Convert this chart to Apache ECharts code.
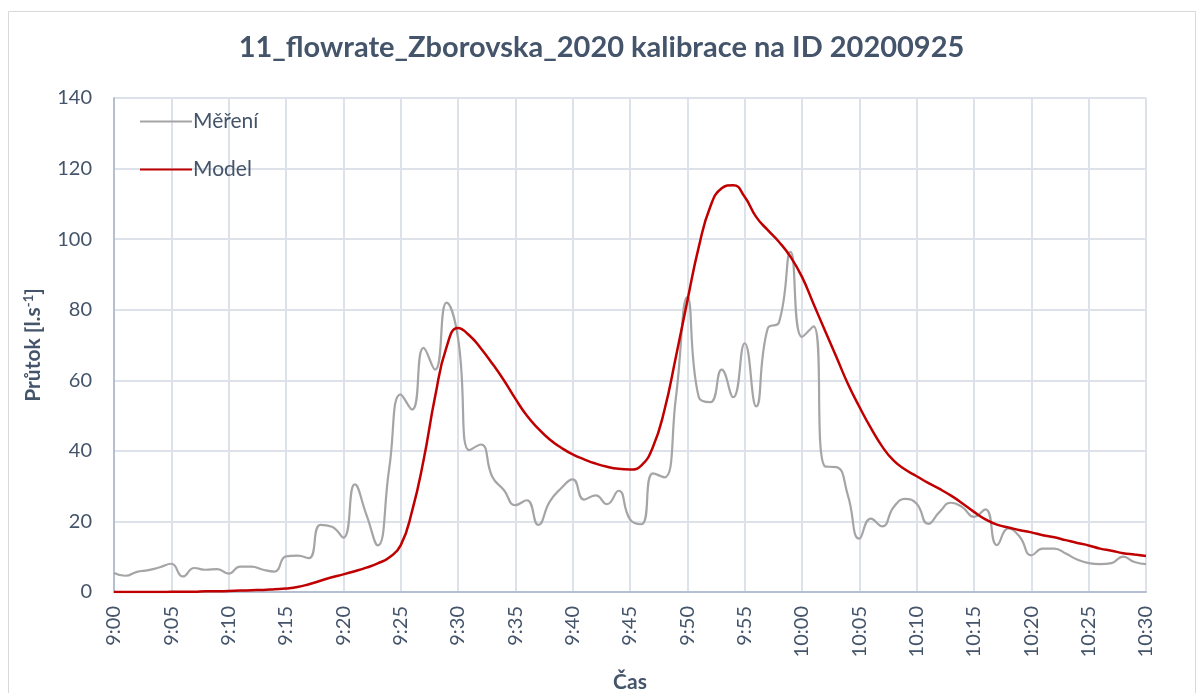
<!DOCTYPE html>
<html>
<head>
<meta charset="utf-8">
<script src="https://cdn.jsdelivr.net/npm/echarts@6/dist/echarts.min.js"></script>
<style>
  html, body { margin: 0; padding: 0; background: #fff; }
  #main { width: 1203px; height: 693px; }
</style>
</head>
<body>
<div id="main"></div>
<script>
  // čas (minutové kroky)
  const times = [
    '9:00', '9:01', '9:02', '9:03', '9:04', '9:05', '9:06', '9:07', '9:08', '9:09',
    '9:10', '9:11', '9:12', '9:13', '9:14', '9:15', '9:16', '9:17', '9:18', '9:19',
    '9:20', '9:21', '9:22', '9:23', '9:24', '9:25', '9:26', '9:27', '9:28', '9:29',
    '9:30', '9:31', '9:32', '9:33', '9:34', '9:35', '9:36', '9:37', '9:38', '9:39',
    '9:40', '9:41', '9:42', '9:43', '9:44', '9:45', '9:46', '9:47', '9:48', '9:49',
    '9:50', '9:51', '9:52', '9:53', '9:54', '9:55', '9:56', '9:57', '9:58', '9:59',
    '10:00', '10:01', '10:02', '10:03', '10:04', '10:05', '10:06', '10:07', '10:08', '10:09',
    '10:10', '10:11', '10:12', '10:13', '10:14', '10:15', '10:16', '10:17', '10:18', '10:19',
    '10:20', '10:21', '10:22', '10:23', '10:24', '10:25', '10:26', '10:27', '10:28', '10:29',
    '10:30',
  ];

  // Měření [l/s]
  const mereni = [
    5.4, 4.6, 5.7, 6.2, 7.0, 8.0, 4.4, 6.8, 6.3, 6.5,
    5.2, 7.2, 7.2, 6.3, 5.8, 10.1, 10.3, 9.6, 19.0, 18.5,
    15.4, 30.5, 22.0, 13.2, 35.0, 56.0, 51.7, 69.2, 63.0, 82.0,
    72.0, 40.2, 41.8, 32.6, 28.9, 24.6, 26.0, 19.0, 25.6, 29.4,
    31.9, 26.2, 27.4, 24.9, 28.7, 20.6, 19.2, 33.6, 32.5, 55.0,
    83.6, 55.2, 53.8, 63.0, 55.2, 70.5, 52.6, 74.6, 76.5, 96.4,
    72.3, 75.3, 35.6, 35.4, 27.4, 15.1, 20.8, 18.6, 24.1, 26.4,
    25.0, 19.3, 22.7, 25.3, 24.0, 21.3, 23.4, 13.3, 18.0, 15.6,
    10.4, 12.3, 12.3, 10.9, 9.2, 8.2, 7.9, 8.2, 10.0, 8.5,
    7.9,
  ];

  // Model [l/s]
  const model = [
    0, 0, 0, 0, 0, 0.05, 0.1, 0.1, 0.2, 0.2,
    0.3, 0.4, 0.5, 0.6, 0.8, 1.0, 1.4, 2.2, 3.2, 4.2,
    5.0, 5.9, 6.9, 8.1, 9.8, 13.2, 23.0, 37.4, 55.3, 69.4,
    74.8, 72.7, 69.0, 64.7, 60.0, 54.8, 50.0, 46.3, 43.2, 40.9,
    39.0, 37.6, 36.4, 35.5, 34.9, 34.7, 35.9, 41.1, 51.5, 66.6,
    82.5, 97.8, 109.2, 114.4, 115.3, 112.0, 106.3, 102.6, 99.2, 95.0,
    89.3, 81.7, 74.1, 66.6, 59.0, 52.5, 46.5, 41.2, 37.2, 34.7,
    32.8, 30.9, 29.2, 27.3, 25.1, 22.7, 20.6, 19.1, 18.3, 17.5,
    16.9, 16.1, 15.5, 14.7, 13.9, 13.2, 12.3, 11.7, 11.0, 10.6,
    10.2,
  ];

  const textColor = '#44546A';
  const fontFamily = 'Lato, "Open Sans", sans-serif';

  const myChart = echarts.init(document.getElementById('main'));
  myChart.setOption({
    backgroundColor: '#fff',
    textStyle: { fontFamily: fontFamily },
    title: {
      text: '11_flowrate_Zborovska_2020 kalibrace na ID 20200925',
      left: 'center',
      top: 28,
      textStyle: {
        color: textColor,
        fontSize: 29,
        fontWeight: 'bold',
        fontFamily: fontFamily,
      },
    },
    graphic: [{
      type: 'rect',
      shape: { x: 8.5, y: 11.5, width: 1187, height: 700 },
      style: { fill: 'none', stroke: '#D9D9D9', lineWidth: 1 },
      silent: true,
    }],
    legend: {
      orient: 'vertical',
      left: 135,
      top: 106,
      icon: 'rect',
      itemWidth: 52,
      itemHeight: 2,
      itemGap: 27,
      textStyle: { color: textColor, fontSize: 21, padding: [0, 0, 0, -4] },
      data: ['Měření', 'Model'],
    },
    grid: {
      left: 114,
      right: 57,
      top: 98,
      bottom: 101,
      outerBoundsMode: 'none',
      containLabel: false,
    },
    xAxis: {
      type: 'category',
      data: times,
      boundaryGap: false,
      name: 'Čas',
      nameLocation: 'middle',
      nameGap: 80,
      nameMoveOverlap: false,
      nameTextStyle: { color: textColor, fontSize: 21, fontWeight: 'bold' },
      axisLine: { lineStyle: { color: '#B4C0D2', width: 2 } },
      axisTick: { show: false },
      axisLabel: {
        interval: 4,
        rotate: 90,
        margin: 14,
        color: textColor,
        fontSize: 20,
      },
      splitLine: {
        show: true,
        interval: 4,
        lineStyle: { color: '#DDE2EA', width: 2 },
      },
    },
    yAxis: {
      type: 'value',
      min: 0,
      max: 140,
      interval: 20,
      name: 'Průtok [l.s{sup|-1}]',
      nameLocation: 'middle',
      nameGap: 70,
      nameMoveOverlap: false,
      nameRotate: 90,
      nameTextStyle: {
        color: textColor,
        fontSize: 21,
        fontWeight: 'bold',
        rich: {
          sup: { fontSize: 13, fontWeight: 'bold', color: textColor, verticalAlign: 'top', padding: [0, 0, 9, 0] },
        },
      },
      axisLine: { show: true, lineStyle: { color: '#B4C0D2', width: 2 } },
      axisTick: { show: false },
      axisLabel: { color: textColor, fontSize: 20, margin: 22 },
      splitLine: { lineStyle: { color: '#DDE2EA', width: 2 } },
    },
    series: [
      {
        name: 'Měření',
        type: 'line',
        data: mereni,
        smooth: 0.5,
        symbol: 'none',
        lineStyle: { color: '#A5A5A5', width: 2.2 },
        itemStyle: { color: '#A5A5A5' },
      },
      {
        name: 'Model',
        type: 'line',
        data: model,
        smooth: 0.5,
        symbol: 'none',
        lineStyle: { color: '#C00000', width: 2.5 },
        itemStyle: { color: '#C00000' },
      },
    ],
  });
</script>
</body>
</html>
